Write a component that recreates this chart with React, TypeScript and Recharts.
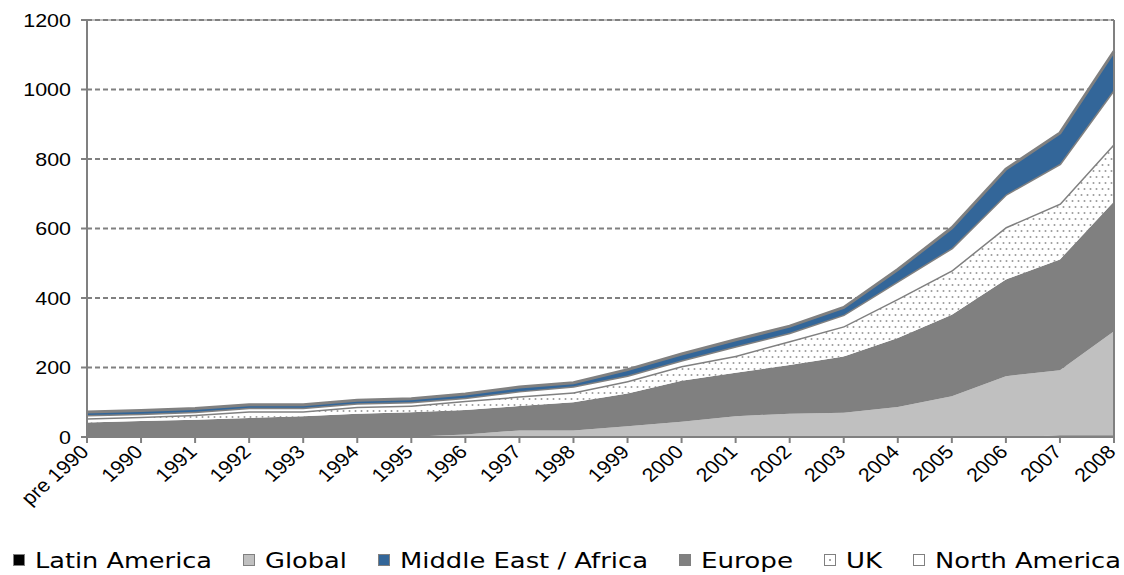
import React from "react";
import {
  AreaChart,
  Area,
  XAxis,
  YAxis,
  CartesianGrid,
  Legend,
  ReferenceLine,
} from "recharts";

// Installed capacity by region, stacked (bottom to top: Latin America, Global, Europe, UK, North America, Middle East / Africa)
const categories = [
  "pre 1990", "1990", "1991", "1992", "1993", "1994", "1995", "1996", "1997", "1998",
  "1999", "2000", "2001", "2002", "2003", "2004", "2005", "2006", "2007", "2008",
];
const latinAmerica = [0, 0, 0, 0, 0, 0, 0, 0, 0, 0, 0, 0, 0, 0, 0, 0, 0, 0, 4, 4];
const global = [0, 0, 0, 0, 0, 0, 1, 7, 19, 19, 31, 44, 60, 67, 70, 86, 117, 175, 188, 300];
const europe = [42, 46, 50, 55, 60, 67, 70, 71, 70, 81, 94, 118, 125, 140, 162, 199, 235, 278, 319, 374];
const uk = [12, 12, 14, 19, 14, 20, 20, 26, 28, 29, 36, 42, 49, 69, 87, 113, 128, 151, 161, 166];
const northAmerica = [9, 9, 9, 10, 10, 10, 10, 9, 15, 17, 16, 17, 27, 24, 33, 50, 64, 94, 114, 156];
const middleEastAfrica = [9, 9, 9, 9, 9, 9, 9, 11, 12, 10, 17, 18, 19, 19, 21, 34, 58, 73, 89, 110];
const yTicks = [0, 200, 400, 600, 800, 1000, 1200];

const data = categories.map((year, i) => ({
  year,
  latinAmerica: latinAmerica[i],
  global: global[i],
  europe: europe[i],
  uk: uk[i],
  northAmerica: northAmerica[i],
  middleEastAfrica: middleEastAfrica[i],
}));

const GRAY = "#808080";
const BLUE = "#336699";
const LIGHT = "#C0C0C0";
const TICK_FONT = "'Liberation Sans', Arial, sans-serif";
const STRETCH = 1.13;

// Legend entries in display order, with the drawn width of each label
const legendOrder = [
  { key: "latinAmerica", label: "Latin America", fill: "#000000", width: 177 },
  { key: "global", label: "Global", fill: LIGHT, width: 82 },
  { key: "middleEastAfrica", label: "Middle East / Africa", fill: BLUE, width: 248 },
  { key: "europe", label: "Europe", fill: GRAY, width: 92 },
  { key: "uk", label: "UK", fill: "dots", width: 36 },
  { key: "northAmerica", label: "North America", fill: "#FFFFFF", width: 186 },
];

const ICON = 12;
const ICON_GAP = 10;
const ITEM_GAP = 31;

const LegendContent = () => {
  let cursor = 13;
  const items = legendOrder.map((item) => {
    const x = cursor;
    cursor += ICON + ICON_GAP + item.width + ITEM_GAP;
    return (
      <g key={item.key}>
        <rect
          x={x + 0.5}
          y={9.5}
          width={ICON - 1}
          height={ICON - 1}
          fill={item.fill === "dots" ? "#fff" : item.fill}
          stroke={GRAY}
        />
        {item.fill === "dots" && <circle cx={x + 6} cy={15} r={1} fill="#888" />}
        <text
          x={x + ICON + ICON_GAP}
          y={23}
          fontFamily="'DejaVu Sans', Verdana, sans-serif"
          fontSize={22}
          fill="#000"
          textLength={item.width}
          lengthAdjust="spacingAndGlyphs"
        >
          {item.label}
        </text>
      </g>
    );
  });
  return (
    <svg width={1124} height={30} style={{ display: "block" }}>
      {items}
    </svg>
  );
};

const XTick = (props: any) => {
  const { x, y, payload } = props;
  return (
    <g transform={`translate(${x + 3},${y + 8}) scale(${STRETCH},1)`}>
      <text
        textAnchor="end"
        transform="rotate(-45)"
        fontFamily={TICK_FONT}
        fontSize={19}
        fill="#000"
      >
        {payload.value}
      </text>
    </g>
  );
};

const YTick = (props: any) => {
  const { x, y, payload } = props;
  return (
    <g transform={`translate(${x},${y}) scale(${STRETCH},1)`}>
      <text textAnchor="end" dy="0.355em" fontFamily={TICK_FONT} fontSize={19} fill="#000">
        {payload.value}
      </text>
    </g>
  );
};

export default function App() {
  return (
    <div style={{ position: "absolute", left: 0, top: 0, background: "#fff" }}>
      <AreaChart
        width={1124}
        height={575}
        data={data}
        margin={{ top: 20, right: 10, left: 0, bottom: 0 }}
      >
        <defs>
          <pattern id="ukDots" width={6} height={12} patternUnits="userSpaceOnUse">
            <rect width={6} height={12} fill="#ffffff" />
            <circle cx={1.5} cy={3} r={1} fill="#9a9a9a" />
            <circle cx={4.5} cy={9} r={1} fill="#9a9a9a" />
          </pattern>
        </defs>
        <CartesianGrid
          vertical={false}
          stroke={GRAY}
          strokeWidth={2}
          strokeDasharray="5 3"
        />
        <XAxis
          dataKey="year"
          interval={0}
          height={108}
          tick={<XTick />}
          tickSize={6}
          axisLine={{ stroke: GRAY, strokeWidth: 2 }}
          tickLine={{ stroke: GRAY, strokeWidth: 2 }}
        />
        <YAxis
          width={87}
          domain={[0, 1200]}
          ticks={yTicks}
          interval={0}
          tickSize={6}
          tickMargin={10}
          axisLine={{ stroke: GRAY, strokeWidth: 2 }}
          tickLine={{ stroke: GRAY, strokeWidth: 2 }}
          tick={<YTick />}
        />
        <Area
          type="linear"
          dataKey="latinAmerica"
          name="Latin America"
          stackId="s"
          fill="#000000"
          fillOpacity={1}
          stroke="none"
          isAnimationActive={false}
        />
        <Area
          type="linear"
          dataKey="global"
          name="Global"
          stackId="s"
          fill={LIGHT}
          fillOpacity={1}
          stroke="none"
          isAnimationActive={false}
        />
        <Area
          type="linear"
          dataKey="europe"
          name="Europe"
          stackId="s"
          fill={GRAY}
          fillOpacity={1}
          stroke="none"
          isAnimationActive={false}
        />
        <Area
          type="linear"
          dataKey="uk"
          name="UK"
          stackId="s"
          fill="url(#ukDots)"
          fillOpacity={1}
          stroke={GRAY}
          strokeWidth={3}
          isAnimationActive={false}
        />
        <Area
          type="linear"
          dataKey="northAmerica"
          name="North America"
          stackId="s"
          fill="#ffffff"
          fillOpacity={1}
          stroke={GRAY}
          strokeWidth={3}
          isAnimationActive={false}
        />
        <Area
          type="linear"
          dataKey="middleEastAfrica"
          name="Middle East / Africa"
          stackId="s"
          fill={BLUE}
          fillOpacity={1}
          stroke={GRAY}
          strokeWidth={3}
          isAnimationActive={false}
        />
        <ReferenceLine y={1200} stroke={GRAY} strokeWidth={1} />
        <ReferenceLine x="2008" stroke={GRAY} strokeWidth={2} />
        <Legend
          verticalAlign="bottom"
          content={<LegendContent />}
          wrapperStyle={{ left: 0, bottom: 0, width: 1124, height: 30 }}
        />
      </AreaChart>
    </div>
  );
}
